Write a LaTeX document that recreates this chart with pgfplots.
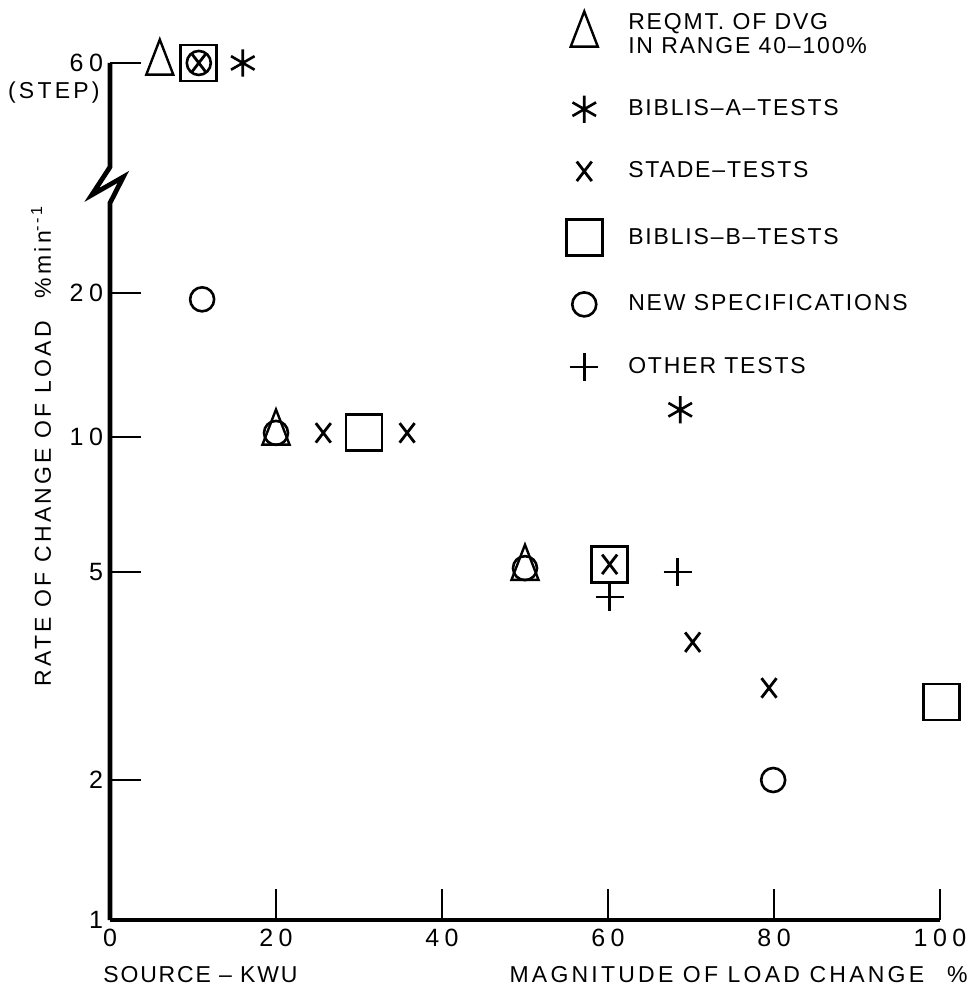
\documentclass[border=0pt]{standalone}
\usepackage{fontspec}
\setmainfont{Liberation Sans}[LetterSpace=8]
\newfontfamily\widef{Liberation Sans}[LetterSpace=14]
\newfontfamily\tickf{Liberation Sans}[LetterSpace=22]
\usepackage{pgfplots}
\pgfplotsset{compat=1.18}
\begin{document}
\begin{tikzpicture}
\begin{axis}[
  scale only axis,
  width=415pt, height=428.5pt,
  xmin=0, xmax=100, ymin=0, ymax=857,
  clip=false,
  axis x line*=bottom, axis y line*=left,
  x axis line style={line width=2.2pt, -},
  y axis line style={draw=none},
  tick align=inside,
  major tick length=15.5pt,
  tick style={line width=1pt, black},
  xtick={0,20,40,60,80,100},
  xticklabels={0,20,40,60,80,100},
  ytick={0,140,348,483,627,857},
  yticklabels={1,2,5,10,20,60},
  tick label style={font=\tickf\fontsize{12.5}{13}\selectfont},
  xticklabel style={yshift=-1pt},
  yticklabel style={xshift=0pt},
  y filter/.expression={ln(y)<0.6931 ? ln(y)*201.99 : (ln(y)<1.6094 ? 140+(ln(y)-0.6931)*227 : (ln(y)<2.3026 ? 348+(ln(y)-1.6094)*194.8 : (ln(y)<2.9957 ? 483+(ln(y)-2.3026)*207.8 : 627+(ln(y)-2.9957)*209.4)))},
  legend style={at={(rel axis cs:0.542,1.068)}, anchor=north west, draw=none, fill=none,
    font=\fontsize{11.5}{12}\selectfont, row sep=17.5pt, column sep=11pt},
  legend cell align=left,
]
\addplot[only marks, mark=triangle, mark size=7.8pt, mark options={yscale=1.5, line width=1.2pt}]
  coordinates {(6,60) (20,10.2) (50,5.1)};
\addlegendentry{\shortstack[l]{REQMT. OF DVG\\[-1pt]IN RANGE 40--100\%}}
\addplot[only marks, mark=asterisk, mark size=6.8pt, mark options={line width=1.3pt}]
  coordinates {(16,60) (68.7,11.4)};
\addlegendentry{BIBLIS--A--TESTS}
\addplot[only marks, mark=x, mark size=5.3pt, mark options={yscale=1.3, line width=1.4pt}]
  coordinates {(10.7,60) (25.7,10.2) (35.8,10.2) (60.2,5.2) (70.2,3.67) (79.4,3.0)};
\addlegendentry{STADE--TESTS}
\addplot[only marks, mark=square, mark size=9pt, mark options={line width=1.4pt}]
  coordinates {(10.7,60) (30.6,10.2) (60.2,5.2) (100.2,2.82)};
\addlegendentry{BIBLIS--B--TESTS}
\addplot[only marks, mark=o, mark size=6pt, mark options={line width=1.3pt}]
  coordinates {(10.7,60) (11.1,19.4) (20,10.2) (50,5.1) (79.9,2.0)};
\addlegendentry{NEW SPECIFICATIONS}
\addplot[only marks, mark=+, mark size=7pt, mark options={line width=1.3pt}]
  coordinates {(60.2,4.48) (68.4,5.0)};
\addlegendentry{OTHER TESTS}
% broken y axis
\draw[line width=2.4pt, line join=miter]
  (rel axis cs:0,1) -- (rel axis cs:0,0.8786) -- (rel axis cs:-0.022,0.846)
  -- (rel axis cs:0.016,0.867) -- (rel axis cs:0,0.8366) -- (rel axis cs:0,0);
\node[anchor=east, font=\widef\fontsize{11.5}{13}\selectfont, inner sep=0pt] at ([xshift=-5pt,yshift=-15pt]rel axis cs:0,1) {(STEP)};
\node[rotate=90, font=\widef\fontsize{11.5}{13}\selectfont] at (rel axis cs:-0.0831,0.553)
  {RATE OF CHANGE OF LOAD\quad \%min\textsuperscript{--1}};
\end{axis}
\node[anchor=west, font=\fontsize{11.5}{13}\selectfont, inner sep=0pt] at (-3.5pt,-27.5pt) {SOURCE -- KWU};
\node[anchor=east, font=\widef\fontsize{11.5}{13}\selectfont, inner sep=0pt] at (429pt,-27.5pt) {MAGNITUDE OF LOAD CHANGE\quad \%};
\pgfresetboundingbox
\path[use as bounding box] (-55pt,-35.5pt) rectangle (431.5pt,460pt);
\end{tikzpicture}
\end{document}
